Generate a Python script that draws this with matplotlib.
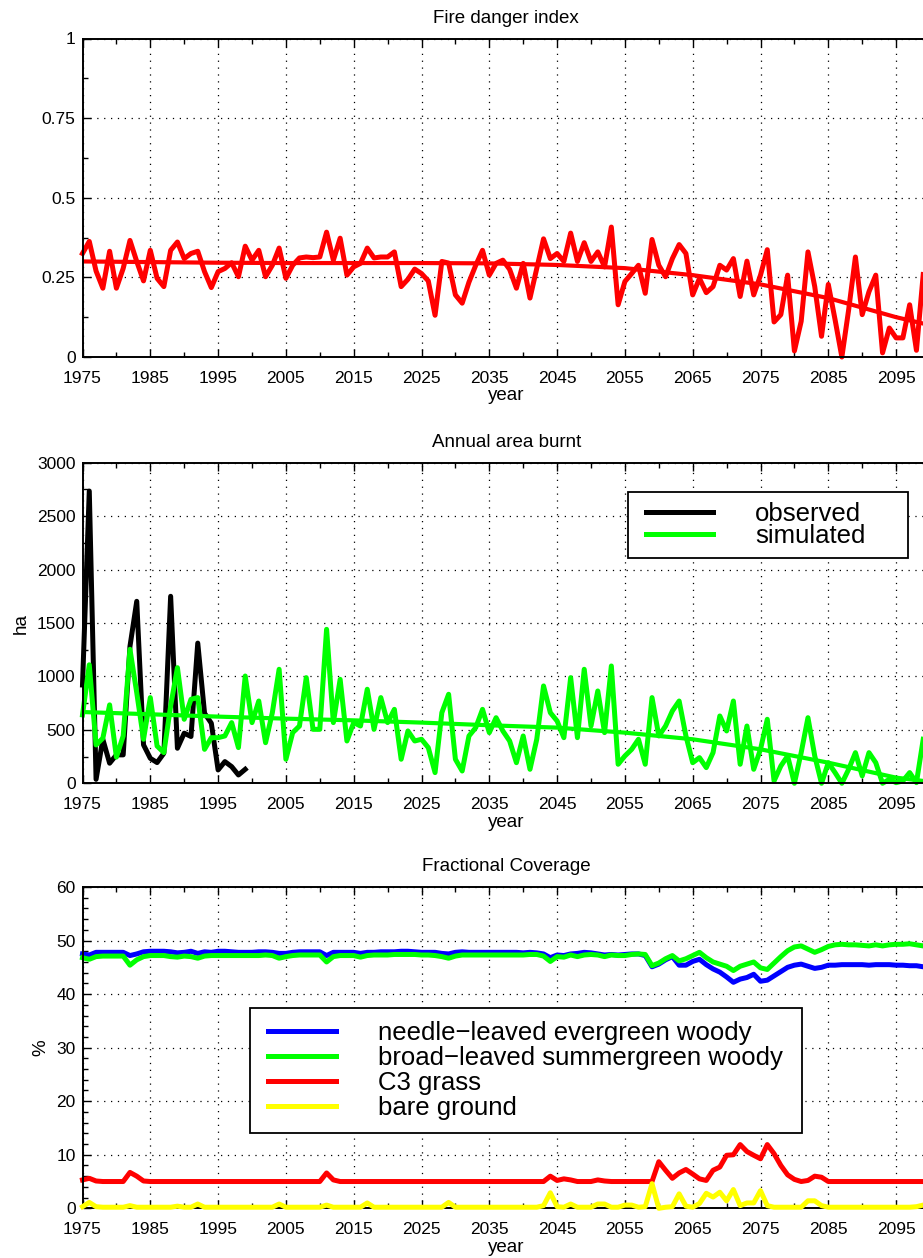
import numpy as np
import matplotlib
matplotlib.use('Agg')
import matplotlib.pyplot as plt
from matplotlib.lines import Line2D
from matplotlib.legend_handler import HandlerLine2D
from matplotlib.ticker import AutoMinorLocator

plt.rcParams['font.family'] = ['Liberation Sans', 'DejaVu Sans']

# ---- fire danger index, 1975-2099 ----
fire_index = [
    0.325, 0.363, 0.270, 0.216, 0.332, 0.216, 0.278, 0.366, 0.300, 0.239,
    0.335, 0.247, 0.221, 0.335, 0.361, 0.309, 0.325, 0.332, 0.268, 0.218,
    0.268, 0.278, 0.296, 0.252, 0.348, 0.304, 0.335, 0.252, 0.288, 0.342,
    0.247, 0.288, 0.311, 0.314, 0.312, 0.314, 0.392, 0.304, 0.373, 0.257,
    0.283, 0.294, 0.342, 0.311, 0.314, 0.314, 0.330, 0.221, 0.244, 0.276,
    0.262, 0.239, 0.131, 0.300, 0.295, 0.195, 0.169, 0.235, 0.288, 0.335,
    0.257, 0.294, 0.304, 0.275, 0.216, 0.294, 0.185, 0.278, 0.371, 0.309,
    0.325, 0.300, 0.389, 0.300, 0.359, 0.300, 0.330, 0.283, 0.408, 0.164,
    0.237, 0.262, 0.288, 0.200, 0.369, 0.288, 0.252, 0.309, 0.353, 0.325,
    0.195, 0.247, 0.202, 0.221, 0.288, 0.273, 0.309, 0.190, 0.301, 0.195,
    0.257, 0.337, 0.110, 0.133, 0.257, 0.019, 0.112, 0.330, 0.221, 0.065,
    0.228, 0.117, 0.000, 0.148, 0.314, 0.133, 0.205, 0.257, 0.013, 0.091,
    0.060, 0.060, 0.164, 0.021, 0.259,
]
trend_years = [1975, 1985, 1995, 2005, 2015, 2025, 2035, 2045, 2055, 2065,
               2075, 2085, 2095, 2099]
fire_trend = [0.300, 0.298, 0.296, 0.295, 0.295, 0.295, 0.294, 0.289, 0.279,
              0.257, 0.228, 0.185, 0.125, 0.105]

# ---- annual area burnt (ha) ----
burnt_observed = [
    920, 2735, 37, 412, 188, 266, 266, 1281, 1703, 360,
    234, 194, 281, 1750, 328, 469, 438, 1312, 656, 562,
    125, 203, 156, 78, 131,
]
burnt_simulated = [
    640, 1109, 359, 422, 734, 245, 443, 1254, 848, 412,
    802, 349, 287, 724, 1082, 599, 786, 802, 318, 427,
    427, 443, 568, 334, 1004, 568, 770, 380, 661, 1067,
    225, 474, 536, 989, 505, 505, 1441, 568, 973, 396,
    568, 536, 880, 505, 802, 568, 692, 225, 490, 396,
    412, 334, 100, 661, 833, 225, 115, 443, 521, 692,
    474, 614, 490, 396, 193, 443, 131, 412, 911, 661,
    583, 427, 989, 427, 1067, 536, 864, 474, 1098, 178,
    256, 318, 412, 178, 802, 443, 536, 677, 770, 443,
    193, 240, 147, 287, 630, 490, 770, 178, 536, 131,
    318, 599, 22, 162, 256, 0, 287, 614, 256, 0,
    193, 100, 0, 131, 287, 69, 287, 193, 0, 37,
    6, 22, 100, 6, 412,
]
burnt_trend = [667, 646, 624, 605, 589, 568, 543, 521, 474, 412, 318, 193,
               53, 22]

# ---- fractional coverage (%) ----
needle_leaved = [
    47.5, 47.3, 47.8, 47.8, 47.8, 47.8, 47.8, 47.2, 47.5, 47.9,
    48.0, 48.0, 48.0, 47.9, 47.7, 47.8, 48.0, 47.6, 47.9, 47.8,
    48.0, 48.0, 47.9, 47.8, 47.8, 47.8, 47.9, 47.9, 47.8, 47.6,
    47.6, 47.8, 47.9, 47.9, 47.9, 47.9, 47.2, 47.8, 47.8, 47.8,
    47.8, 47.6, 47.8, 47.8, 47.9, 47.9, 47.9, 48.0, 48.0, 47.9,
    47.8, 47.8, 47.8, 47.6, 47.5, 47.8, 47.9, 47.8, 47.8, 47.8,
    47.8, 47.8, 47.8, 47.8, 47.8, 47.7, 47.8, 47.7, 47.5, 46.8,
    47.3, 47.2, 47.5, 47.6, 47.8, 47.7, 47.5, 47.3, 47.4, 47.3,
    47.4, 47.5, 47.5, 47.2, 45.1, 45.6, 46.4, 47.0, 45.4, 45.4,
    46.1, 46.5, 45.5, 44.7, 44.1, 43.2, 42.2, 42.8, 43.1, 43.7,
    42.4, 42.6, 43.4, 44.2, 45.0, 45.4, 45.6, 45.2, 44.8, 45.0,
    45.4, 45.4, 45.5, 45.5, 45.5, 45.5, 45.4, 45.5, 45.5, 45.5,
    45.4, 45.4, 45.3, 45.3, 45.1,
]
broad_leaved = [
    46.8, 46.5, 47.0, 47.1, 47.1, 47.1, 47.1, 45.4, 46.4, 47.0,
    47.2, 47.2, 47.2, 47.0, 46.9, 47.1, 47.0, 46.7, 47.1, 47.2,
    47.2, 47.2, 47.2, 47.2, 47.2, 47.2, 47.2, 47.3, 47.2, 46.7,
    47.0, 47.2, 47.3, 47.3, 47.3, 47.3, 46.0, 47.0, 47.2, 47.2,
    47.2, 46.9, 47.2, 47.3, 47.3, 47.3, 47.4, 47.4, 47.4, 47.4,
    47.3, 47.3, 47.2, 47.0, 46.7, 47.1, 47.3, 47.3, 47.3, 47.3,
    47.3, 47.3, 47.3, 47.3, 47.3, 47.3, 47.4, 47.4, 47.1, 46.1,
    47.0, 46.9, 47.3, 47.0, 47.3, 47.4, 47.3, 47.0, 47.3, 47.2,
    47.2, 47.4, 47.5, 47.4, 45.3, 45.8, 46.6, 47.2, 46.2, 46.6,
    47.2, 47.8, 46.8, 46.0, 45.6, 45.2, 44.4, 45.2, 45.6, 46.0,
    44.9, 44.6, 45.8, 47.0, 48.1, 48.8, 49.0, 48.4, 47.8, 48.3,
    48.9, 49.2, 49.3, 49.2, 49.2, 49.1, 49.0, 49.2, 49.0, 49.2,
    49.3, 49.3, 49.4, 49.2, 49.0,
]
c3_grass = [
    5.3, 5.6, 5.1, 5.0, 5.0, 5.0, 5.0, 6.7, 6.0, 5.1,
    5.0, 5.0, 5.0, 5.0, 5.0, 5.0, 5.0, 5.0, 5.0, 5.0,
    5.0, 5.0, 5.0, 5.0, 5.0, 5.0, 5.0, 5.0, 5.0, 5.0,
    5.0, 5.0, 5.0, 5.0, 5.0, 5.0, 6.6, 5.3, 5.0, 5.0,
    5.0, 5.0, 5.0, 5.0, 5.0, 5.0, 5.0, 5.0, 5.0, 5.0,
    5.0, 5.0, 5.0, 5.0, 5.0, 5.0, 5.0, 5.0, 5.0, 5.0,
    5.0, 5.0, 5.0, 5.0, 5.0, 5.0, 5.0, 5.0, 5.0, 6.0,
    5.2, 5.5, 5.3, 5.0, 5.0, 5.0, 5.3, 5.1, 5.0, 5.0,
    5.0, 5.0, 5.0, 5.0, 5.0, 8.7, 7.1, 5.6, 6.6, 7.25,
    6.4, 5.5, 5.2, 7.1, 7.7, 9.9, 10.0, 11.9, 10.6, 9.9,
    9.25, 11.9, 10.2, 8.0, 6.25, 5.4, 5.0, 5.2, 6.0, 5.8,
    5.0, 5.0, 5.0, 5.0, 5.0, 5.0, 5.0, 5.0, 5.0, 5.0,
    5.0, 5.0, 5.0, 5.0, 5.0,
]
bare_ground = [
    0.3, 1.1, 0.3, 0.2, 0.2, 0.2, 0.2, 0.5, 0.2, 0.2,
    0.2, 0.2, 0.2, 0.2, 0.4, 0.2, 0.2, 0.8, 0.2, 0.2,
    0.2, 0.2, 0.2, 0.2, 0.2, 0.2, 0.2, 0.2, 0.2, 0.8,
    0.2, 0.2, 0.2, 0.2, 0.2, 0.2, 0.6, 0.2, 0.2, 0.2,
    0.2, 0.2, 1.0, 0.2, 0.2, 0.2, 0.2, 0.2, 0.2, 0.2,
    0.2, 0.2, 0.2, 0.2, 1.1, 0.2, 0.2, 0.2, 0.2, 0.2,
    0.2, 0.2, 0.2, 0.2, 0.2, 0.2, 0.2, 0.2, 0.5, 2.9,
    0.3, 0.2, 0.8, 0.2, 0.2, 0.2, 0.8, 0.8, 0.2, 0.2,
    0.6, 0.6, 0.2, 0.3, 4.6, 0.0, 0.2, 0.3, 2.7, 0.4,
    0.2, 0.9, 2.8, 2.1, 3.0, 1.4, 3.5, 0.5, 1.0, 1.0,
    3.3, 0.5, 0.2, 0.2, 0.2, 0.2, 0.2, 1.4, 1.4, 0.5,
    0.2, 0.2, 0.2, 0.2, 0.2, 0.2, 0.2, 0.2, 0.2, 0.2,
    0.2, 0.2, 0.2, 0.3, 0.6,
]

years = np.arange(1975, 1975 + len(fire_index))
obs_years = np.arange(1975, 1975 + len(burnt_observed))

W, H = 923, 1258
fig = plt.figure(figsize=(W / 100, H / 100), dpi=100)
fig.patch.set_facecolor('white')


def panel(top, bottom):
    # axes placed by pixel rows; the x range runs slightly past the right edge
    return fig.add_axes([82.5 / W, 1 - bottom / H, 847.5 / W, (bottom - top) / H])


def style(ax, yticks, ylabels, title, nminor):
    ax.set_xlim(1975, 2100)
    ax.set_ylim(yticks[0], yticks[-1])
    ax.set_xticks(np.arange(1975, 2100, 10))
    ax.set_xticks(np.arange(1980, 2100, 10), minor=True)
    ax.set_yticks(yticks)
    ax.set_yticklabels(ylabels)
    ax.yaxis.set_minor_locator(AutoMinorLocator(nminor))
    ax.tick_params(which='both', direction='in', top=True, right=False,
                   labelsize=12.5, width=1.0)
    ax.tick_params(which='major', length=6)
    ax.tick_params(which='minor', length=3.5)
    ax.tick_params(axis='x', pad=10)
    ax.tick_params(axis='y', pad=5)
    for s in ax.spines.values():
        s.set_linewidth(1.4)
    ax.grid(True, which='major', color='black', linestyle=(0, (1, 4.5)),
            linewidth=0.9)
    ax.set_title(title, fontsize=13.5, pad=11.5)
    ax.set_xlabel('year', fontsize=13.5, labelpad=1)


# fire danger index
ax1 = panel(38.5, 357)
ax1.plot(years, fire_index, color='red', lw=3.6, clip_on=False)
ax1.plot(trend_years, fire_trend, color='red', lw=3.0)
style(ax1, [0, 0.25, 0.5, 0.75, 1], ['0', '0.25', '0.5', '0.75', '1'],
      'Fire danger index', 2)

# annual area burnt
ax2 = panel(462.7, 783.3)
l_obs, = ax2.plot(obs_years, burnt_observed, color='black', lw=3.6, clip_on=False)
l_sim, = ax2.plot(years, burnt_simulated, color='#00ff00', lw=3.6, clip_on=False)
ax2.plot(trend_years, burnt_trend, color='#00ff00', lw=3.0)
yt2 = list(range(0, 3001, 500))
style(ax2, yt2, [str(v) for v in yt2], 'Annual area burnt', 2)
ax2.set_ylabel('ha', fontsize=13.5, labelpad=5)
leg2 = ax2.legend([l_obs, l_sim], ['observed', 'simulated'],
                  loc='upper left', mode='expand',
                  bbox_to_anchor=(628 / W, 1 - 492.3 / H, 279.6 / W, 0),
                  bbox_transform=fig.transFigure, borderaxespad=0,
                  fontsize=18.5, borderpad=0.385, labelspacing=-0.07,
                  handlelength=2.94, handletextpad=1.62,
                  handler_map={Line2D: HandlerLine2D(xpad=0.30)},
                  fancybox=False, edgecolor='black', framealpha=1)
leg2.get_frame().set_linewidth(1.3)

# fractional coverage
ax3 = panel(887, 1208.3)
h_nl, = ax3.plot(years, needle_leaved, color='blue', lw=3.6, clip_on=False)
h_bl, = ax3.plot(years, broad_leaved, color='#00ff00', lw=3.6, clip_on=False)
h_c3, = ax3.plot(years, c3_grass, color='red', lw=3.6, clip_on=False)
h_bg, = ax3.plot(years, bare_ground, color='yellow', lw=3.6, clip_on=False,
                 zorder=3)
yt3 = list(range(0, 61, 10))
style(ax3, yt3, [str(v) for v in yt3], 'Fractional Coverage', 5)
ax3.set_ylabel('%', fontsize=13.5, labelpad=5)
leg3 = ax3.legend([h_nl, h_bl, h_c3, h_bg],
                  ['needle\u2212leaved evergreen woody',
                   'broad\u2212leaved summergreen woody',
                   'C3 grass', 'bare ground'],
                  loc='upper left', mode='expand',
                  bbox_to_anchor=(250 / W, 1 - 1007.7 / H, 551.7 / W, 0),
                  bbox_transform=fig.transFigure, borderaxespad=0,
                  fontsize=18.5, borderpad=0.5, labelspacing=0.043,
                  handlelength=2.83, handletextpad=1.65,
                  handler_map={Line2D: HandlerLine2D(xpad=0.19)},
                  fancybox=False, edgecolor='black', framealpha=1)
leg3.get_frame().set_linewidth(1.3)

fig.savefig('out.png', dpi=100)
